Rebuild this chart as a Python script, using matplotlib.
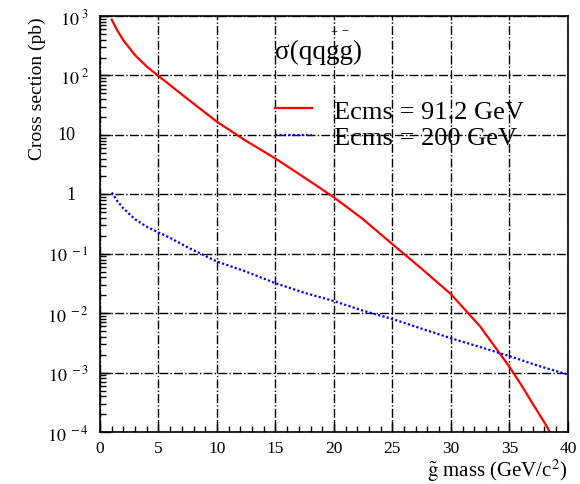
import numpy as np
import matplotlib
matplotlib.use('Agg')
import matplotlib.pyplot as plt
import matplotlib.ticker as mtick
from matplotlib.transforms import blended_transform_factory

plt.rcParams['font.family'] = 'Liberation Serif'
plt.rcParams['mathtext.fontset'] = 'stix'

# gluino pair cross sections (pb) vs gluino mass (GeV/c^2)
mass_91 = [1, 1.5, 2, 3, 4, 5, 7.5, 10, 12.5, 15, 17.5, 20, 22.5, 25, 27.5, 30, 32.5, 35, 36, 37, 38, 38.6]
xsec_91 = [870, 562, 389, 219, 141, 98, 40, 16.6, 7.9, 4.0, 1.9, 0.89, 0.38, 0.145, 0.056, 0.021,
           0.006, 0.00126, 6.3e-4, 3.0e-4, 1.45e-4, 0.9e-4]

mass_200 = [1, 1.5, 2, 3, 4, 5, 6, 7.5, 10, 12.5, 15, 17.5, 20, 22.5, 25, 27.5, 30, 32.5, 35, 37.5, 40]
xsec_200 = [1.07, 0.76, 0.58, 0.38, 0.285, 0.228, 0.185, 0.128, 0.074, 0.05, 0.032, 0.022, 0.016,
            0.011, 0.008, 0.0055, 0.0038, 0.0027, 0.0019, 0.0013, 0.00093]

labels = ['Ecms = 91.2 GeV', 'Ecms = 200 GeV']
ytick_vals = [1e-4, 1e-3, 1e-2, 1e-1, 1, 10, 1e2, 1e3]
ytick_labels = [r'$10^{\ -4}$', r'$10^{\ -3}$', r'$10^{\ -2}$', r'$10^{\ -1}$',
                '1', '10', r'$10^{\ 2}$', r'$10^{\ 3}$']

fig = plt.figure(figsize=(5.8, 4.85), dpi=100)
ax = fig.add_axes([0.1724, 0.107, 0.8066, 0.858])

ax.plot(mass_91, xsec_91, color='#ff0000', lw=1.6, label=labels[0])
ax.plot(mass_200, xsec_200, color='#0000ff', lw=1.6, ls=(0, (1, 1)), label=labels[1])

ax.set_yscale('log')
ax.set_xlim(0, 40)
ax.set_ylim(1e-4, 1e3)

ax.xaxis.set_major_locator(mtick.MultipleLocator(5))
ax.xaxis.set_minor_locator(mtick.MultipleLocator(1))
ax.set_yticks(ytick_vals)
# powers go on the axis; plain 1 and 10 are set by hand so they line up with the base "10"
ax.set_yticklabels([lab if lab.startswith('$') else '' for lab in ytick_labels])
ax.yaxis.set_minor_locator(mtick.LogLocator(base=10, subs=np.arange(2, 10), numticks=20))
ax.yaxis.set_minor_formatter(mtick.NullFormatter())

ytrans = blended_transform_factory(ax.transAxes, ax.transData)
for val, lab in zip(ytick_vals, ytick_labels):
    if not lab.startswith('$'):
        ax.text(-0.052, val, lab, transform=ytrans, fontsize=13, ha='right', va='center')

ax.tick_params(which='both', direction='in', top=False, right=False)
ax.tick_params(which='major', length=8, width=1)
ax.tick_params(which='minor', length=4, width=1)
ax.tick_params(axis='y', pad=8, labelsize=13)
ax.tick_params(axis='x', pad=6, labelsize=12.5)

ax.grid(True, which='major', color='black', ls='-.', lw=1)
for s in ax.spines.values():
    s.set_linewidth(1.2)

ax.set_xlabel(r'$\tilde{\rm g}$ mass (GeV/c$^2$)', fontsize=15, loc='right')
ax.xaxis.set_label_coords(1.0, -0.058)
ax.set_ylabel('Cross section (pb)', fontsize=14, loc='top')
ax.yaxis.set_label_coords(-0.115, 1.0)

ax.text(0.374, 0.916, 'σ(qqgg)', transform=ax.transAxes, fontsize=19.5, va='center', ha='left')
ax.text(0.501, 0.961, '+', transform=ax.transAxes, fontsize=9, va='center', ha='center')
ax.text(0.5235, 0.963, '−', transform=ax.transAxes, fontsize=9, va='center', ha='center')

ax.legend(loc='upper left', bbox_to_anchor=(0.374, 0.80), frameon=False, fontsize=19,
          handlelength=1.4, handletextpad=0.85, labelspacing=0.12, borderpad=0, borderaxespad=0)

fig.savefig('out.png', dpi=100)
